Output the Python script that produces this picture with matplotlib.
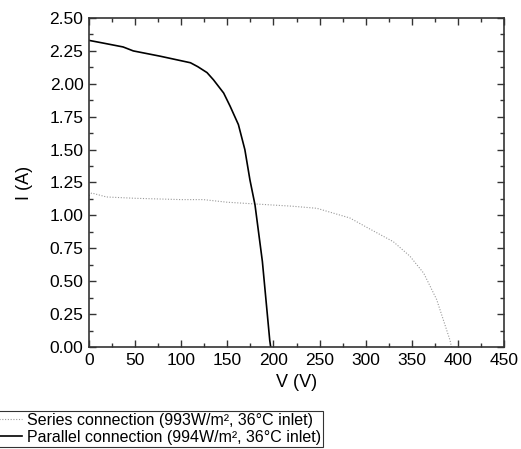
import numpy as np
import matplotlib.pyplot as plt
from matplotlib.ticker import MultipleLocator

plt.rcParams['font.family'] = ['Liberation Sans', 'DejaVu Sans']

# parallel connection I-V curve
v_par = [0, 15, 37, 48, 77, 110, 118, 128, 135, 146, 153, 162, 169, 174.5, 180, 188, 196, 197]
i_par = [2.33, 2.31, 2.28, 2.25, 2.21, 2.16, 2.13, 2.085, 2.03, 1.93, 1.83, 1.69, 1.50, 1.27, 1.08, 0.65, 0.05, 0.0]

# series connection I-V curve
v_ser = [0, 3, 19, 50, 100, 124, 150, 180, 220, 247, 283, 301, 330, 348, 363, 377, 391.5, 393]
i_ser = [1.15, 1.17, 1.14, 1.13, 1.12, 1.12, 1.10, 1.087, 1.07, 1.054, 0.98, 0.91, 0.80, 0.69, 0.56, 0.36, 0.05, 0.0]

fig = plt.figure(figsize=(5.21, 4.49), dpi=100)
ax = fig.add_axes([0.1708, 0.2272, 0.7966, 0.7327])

l1, = ax.plot(v_ser, i_ser, color='#9a9a9a', linestyle=(0, (1, 1.5)), linewidth=0.8)
l2, = ax.plot(v_par, i_par, color='black', linestyle='-', linewidth=1.2)

ax.set_xlim(0, 450)
ax.set_ylim(0, 2.5)
ax.xaxis.set_major_locator(MultipleLocator(50))
ax.xaxis.set_minor_locator(MultipleLocator(25))
ax.yaxis.set_major_locator(MultipleLocator(0.25))
ax.yaxis.set_minor_locator(MultipleLocator(0.125))
ax.yaxis.set_major_formatter(plt.FormatStrFormatter('%.2f'))
ax.tick_params(which='both', direction='in', top=True, right=True, labelsize=12.5,
               width=1.0, color='#333333', pad=4)
ax.tick_params(which='major', length=5)
ax.tick_params(which='minor', length=3)
for s in ax.spines.values():
    s.set_linewidth(1.2)
    s.set_color('#333333')

ax.set_xlabel('V (V)', fontsize=13, labelpad=5)
ax.set_ylabel('I (A)', fontsize=13, labelpad=12)

leg = fig.legend([l1, l2],
                 ['Series connection (993W/m², 36°C inlet)',
                  'Parallel connection (994W/m², 36°C inlet)'],
                 loc='upper right', bbox_to_anchor=(323 / 521, 1 - 411 / 449), fontsize=11.5,
                 frameon=True, fancybox=False, handlelength=2.6, handletextpad=0.35,
                 borderpad=0.1, labelspacing=0.15, borderaxespad=0)
leg.get_frame().set_edgecolor('black')
leg.get_frame().set_linewidth(0.8)

fig.savefig('out.png', dpi=100)
